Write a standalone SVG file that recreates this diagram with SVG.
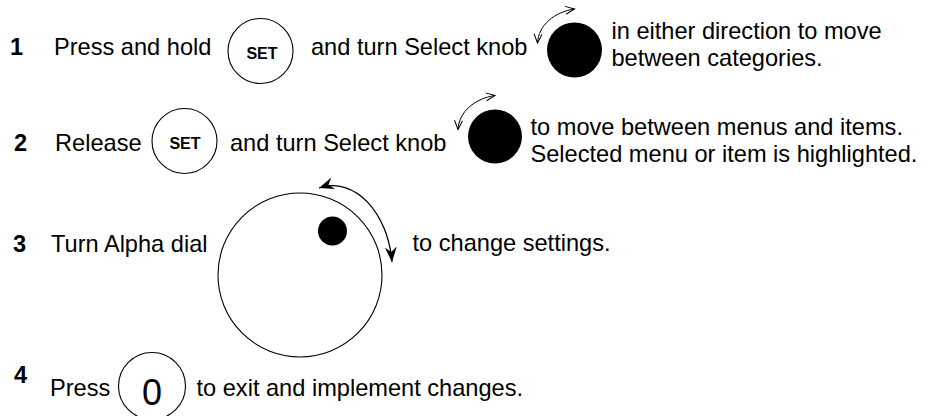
<svg xmlns="http://www.w3.org/2000/svg" width="928" height="416" viewBox="0 0 928 416">
<defs>
<style>
.t{font-family:"Liberation Sans",Arial,sans-serif;font-size:23.6px;fill:#000}
.n{font-family:"Liberation Sans",Arial,sans-serif;font-size:23.6px;font-weight:bold;fill:#000}
.set{font-family:"Liberation Sans",Arial,sans-serif;font-size:16px;font-weight:bold;fill:#000;text-anchor:middle}
.btn{fill:#fff;stroke:#000;stroke-width:1.1}
.knob{fill:#000}
.thin{fill:none;stroke:#000;stroke-width:1}
.bold{fill:none;stroke:#000;stroke-width:1.3}
</style>
<marker id="vee" viewBox="-10 -6 12 12" refX="0" refY="0" markerWidth="12" markerHeight="12" markerUnits="userSpaceOnUse" orient="auto-start-reverse">
<path d="M-9,-4 L0,0 L-9,4" fill="none" stroke="#000" stroke-width="1"/>
</marker>
<marker id="barb" viewBox="-16 -8 18 16" refX="0" refY="0" markerWidth="18" markerHeight="16" markerUnits="userSpaceOnUse" orient="auto-start-reverse">
<path d="M0,0 L-15,-6 L-10,0 L-15,6 Z" fill="#000"/>
</marker>
</defs>
<rect width="928" height="416" fill="#fff"/>

<g id="step1">
<text class="n" x="10" y="55">1</text>
<text class="t" x="54" y="55">Press and hold</text>
<g id="set1"><circle class="btn" cx="260.5" cy="51" r="32.5"/><text class="set" x="262" y="58.5">SET</text></g>
<text class="t" x="311" y="55">and turn Select knob</text>
<circle id="knob1" class="knob" cx="574.5" cy="50" r="27.5"/>
<text class="t" x="611.5" y="39">in either direction to move</text>
<text class="t" x="611.5" y="66">between categories.</text>
</g>

<g id="step2">
<text class="n" x="14" y="151">2</text>
<text class="t" x="55" y="151">Release</text>
<g id="set2"><circle class="btn" cx="184.5" cy="141" r="32.5"/><text class="set" x="185" y="149">SET</text></g>
<text class="t" x="230" y="151">and turn Select knob</text>
<circle id="knob2" class="knob" cx="495" cy="136.5" r="27"/>
<text class="t" x="530.5" y="135">to move between menus and items.</text>
<text class="t" x="530.5" y="162">Selected menu or item is highlighted.</text>
</g>

<g id="step3">
<text class="n" x="13" y="252">3</text>
<text class="t" x="51" y="252">Turn Alpha dial</text>
<g id="dial">
<circle cx="300" cy="275" r="82" fill="#fff" stroke="#000" stroke-width="1.1"/>
<circle class="knob" cx="332.5" cy="231" r="14.5"/>
</g>
<text class="t" x="412.5" y="251">to change settings.</text>
</g>

<g id="step4">
<text class="n" x="14" y="383">4</text>
<text class="t" x="50" y="396">Press</text>
<g id="zero"><circle class="btn" cx="152" cy="386" r="33.5"/><text x="152" y="405" text-anchor="middle" style="font-family:'Liberation Sans',Arial,sans-serif;font-size:36px;fill:#000">0</text></g>
<text class="t" x="196.5" y="396">to exit and implement changes.</text>
</g>

<g id="connectors">
<path class="thin" transform="translate(574.5,50)" d="M-37,-7 C-36,-25 -20,-38 0,-41" marker-start="url(#vee)" marker-end="url(#vee)"/>
<path class="thin" transform="translate(495,136.5)" d="M-37,-7 C-36,-25 -20,-38 0,-41" marker-start="url(#vee)" marker-end="url(#vee)"/>
<path class="bold" d="M319,188 C355,176 388,213 392,262" marker-start="url(#barb)" marker-end="url(#barb)"/>
</g>
</svg>
